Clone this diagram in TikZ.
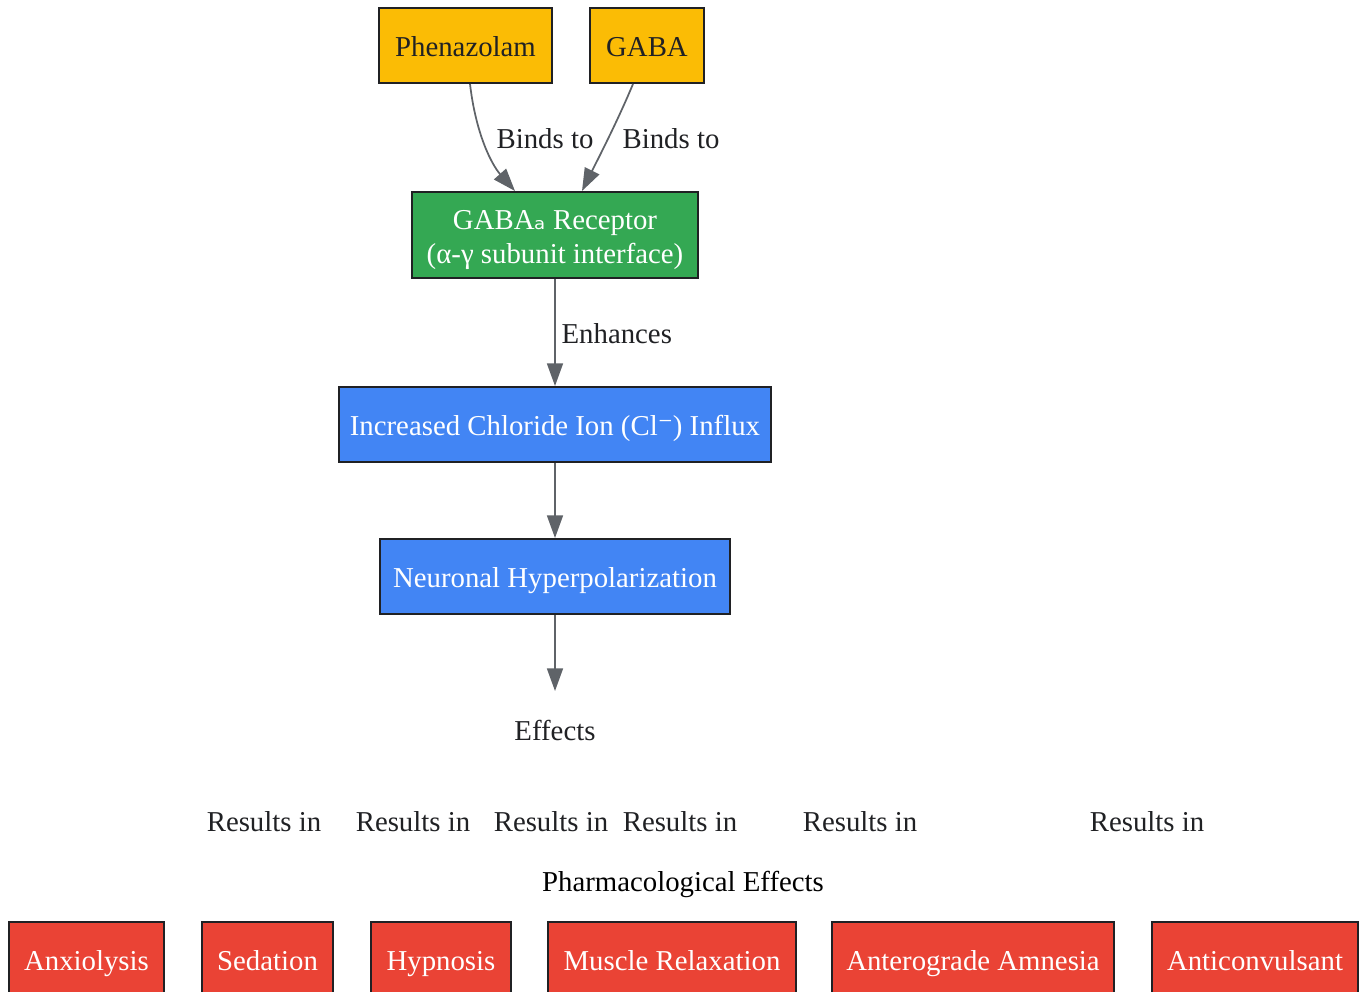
\documentclass[tikz,border=0pt]{standalone}
\usepackage{fontspec}
\setmainfont{Liberation Serif}
\newfontfamily\subfont{DejaVu Sans}
\newfontfamily\supfont{DejaVu Serif}
\usetikzlibrary{arrows.meta}
\definecolor{gyellow}{HTML}{FBBC05}
\definecolor{ggreen}{HTML}{34A853}
\definecolor{gblue}{HTML}{4285F4}
\definecolor{gred}{HTML}{EA4335}
\definecolor{gborder}{HTML}{202124}
\definecolor{gedge}{HTML}{5F6368}
\definecolor{gtext}{HTML}{202124}
\begin{document}
\begin{tikzpicture}[x=0.75pt,y=-0.75pt,
  every node/.style={font=\fontsize{21.6}{25.5}\selectfont},
  box/.style={draw=gborder,line width=1.5pt,inner sep=0pt,minimum height=56.25pt,align=center,text height=21pt,text depth=4pt},
  ybox/.style={box,fill=gyellow,text=gtext},
  gbox/.style={draw=gborder,line width=1.5pt,inner sep=0pt,fill=ggreen,text=white},
  bbox/.style={box,fill=gblue,text=white},
  rbox/.style={box,fill=gred,text=white},
  plain/.style={text=gtext,inner sep=1pt},
  conn/.style={draw=gedge,line width=1.3pt,-{Triangle[length=17pt,width=12pt]}}]
\useasboundingbox (0,0) rectangle (1365,992);
\clip (0,0) rectangle (1365,992);
\fill[white] (0,0) rectangle (1365,992);

\node[ybox,minimum width=129.75pt] (phen) at (465.5,45.5) {Phenazolam};
\node[ybox,minimum width=85.5pt] (gaba) at (647,45.5) {GABA};
\node[gbox,minimum width=214.5pt,minimum height=64.5pt,text height=50.85pt,text depth=7.65pt] (rec) at (555,235) {\begin{tabular}[b]{@{}c@{}}GABA{\subfont ₐ} Receptor\\(α-γ subunit interface)\end{tabular}};
\node[bbox,minimum width=324pt] (cl) at (555,424.5) {Increased Chloride Ion (Cl{\supfont ⁻}) Influx};
\node[bbox,minimum width=262.5pt] (hyp) at (555,576.5) {Neuronal Hyperpolarization};
\coordinate (effin) at (555,691);
\node[plain] (eff) at (555,730) {Effects};

\draw[conn] (phen.south -| 470,0) .. controls (476,135) and (492,165) .. (rec.north -| 515,0);
\draw[conn] (gaba.south -| 633,0) .. controls (618,120) and (600,155) .. (rec.north -| 582,0);
\node[plain] (l1) at (545,139) {Binds to};
\node[plain] (l2) at (671,139) {Binds to};
\draw[conn] (rec.south) -- (cl.north);
\node[plain,anchor=west] (l3) at (560,334) {Enhances};
\draw[conn] (cl.south) -- (hyp.north);
\draw[conn] (hyp.south) -- (effin);

\node[plain] (r1) at (264,822) {Results in};
\node[plain] (r2) at (413,822) {Results in};
\node[plain] (r3) at (551,822) {Results in};
\node[plain] (r4) at (680,822) {Results in};
\node[plain] (r5) at (860,822) {Results in};
\node[plain] (r6) at (1147,822) {Results in};
\node[text=black,inner sep=1pt] (pe) at (683,884) {Pharmacological Effects};

\node[rbox,minimum width=116.25pt] (e1) at (86.5,959.5) {Anxiolysis};
\node[rbox,minimum width=98.25pt] (e2) at (267.5,959.5) {Sedation};
\node[rbox,minimum width=105pt] (e3) at (441,959.5) {Hypnosis};
\node[rbox,minimum width=186pt] (e4) at (672,959.5) {Muscle Relaxation};
\node[rbox,minimum width=211.5pt] (e5) at (973,959.5) {Anterograde Amnesia};
\node[rbox,minimum width=154.5pt] (e6) at (1255,959.5) {Anticonvulsant};
\end{tikzpicture}
\end{document}
